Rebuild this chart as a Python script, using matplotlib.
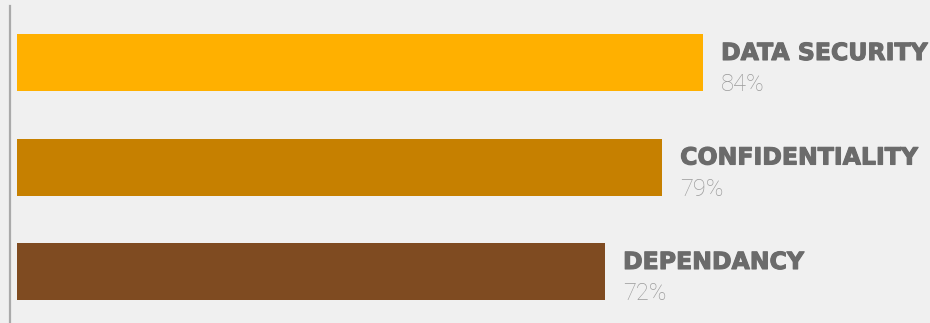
import matplotlib.pyplot as plt
import matplotlib.patheffects as pe

# data
labels = ['DATA SECURITY', 'CONFIDENTIALITY', 'DEPENDANCY']
values = [84, 79, 72]
colors = ['#ffb000', '#c68000', '#7f4b21']

W, H = 930, 323
PX = 8.167          # pixels per percent
X0 = 17             # pixel of zero
ROW = 104.5         # pixel spacing between bars
Y0 = 62.5           # pixel centre of first bar

fig = plt.figure(figsize=(W / 100, H / 100), dpi=100)
fig.patch.set_facecolor('#f0f0f0')
ax = fig.add_axes([0, 0, 1, 1])
ax.set_facecolor('#f0f0f0')

ax.barh(range(len(values)), values, height=57 / ROW, color=colors)
ax.set_xlim(-X0 / PX, (W - X0) / PX)
ax.set_ylim((H - Y0) / ROW, -Y0 / ROW)
ax.axvline(-7 / PX, ymin=0, ymax=1 - 6 / H, color='#aaaaaa', lw=1.6)
ax.axis('off')

heavy = [pe.withStroke(linewidth=0.8, foreground='#6b6b6b')]
for i, (lab, v) in enumerate(zip(labels, values)):
    # 1px = 0.72pt
    ax.annotate(lab, (v, i), xytext=(18 * 0.72, 2.5 * 0.72),
                textcoords='offset points', va='baseline', ha='left',
                fontsize=17, fontweight='bold', color='#6b6b6b',
                family='DejaVu Sans', path_effects=heavy)
    ax.annotate('%d%%' % v, (v, i), xytext=(18 * 0.72, -28.5 * 0.72),
                textcoords='offset points', va='baseline', ha='left',
                fontsize=17, fontweight='light', color='#9a9a9a',
                family='Roboto')

fig.savefig('out.png', dpi=100, facecolor=fig.get_facecolor())
